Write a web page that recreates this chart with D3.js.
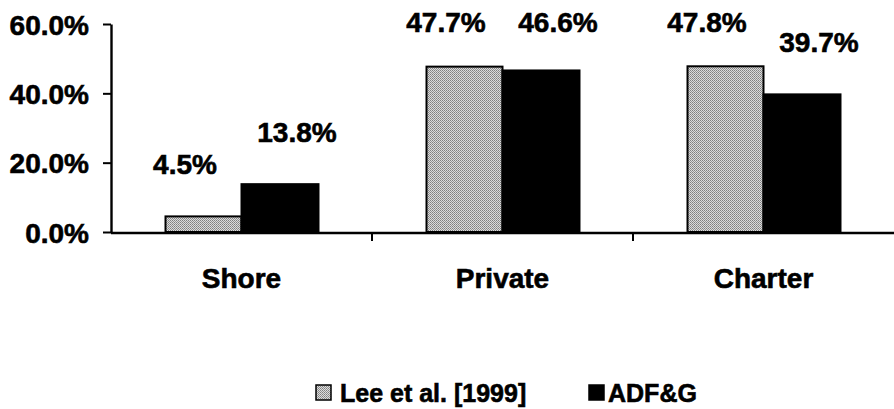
<!DOCTYPE html>
<html><head><meta charset="utf-8">
<script src="https://cdn.jsdelivr.net/npm/d3@7"></script>
<style>
html,body{margin:0;padding:0;background:#fff;}
text{font-family:"Liberation Sans",Arial,sans-serif;font-weight:bold;fill:#000;stroke:#000;stroke-width:0.6px;}
</style></head>
<body>
<svg id="chart" width="894" height="409"></svg>
<script>
const categories = ["Shore", "Private", "Charter"];
const seriesNames = ["Lee et al. [1999]", "ADF&G"];
const leeValues = [4.5, 47.7, 47.8];
const adfgValues = [13.8, 46.6, 39.7];
const yTicks = [0, 20, 40, 60];

const svg = d3.select("#chart");
const defs = svg.append("defs");
const pat = defs.append("pattern").attr("id","stip").attr("patternUnits","userSpaceOnUse")
  .attr("width",2).attr("height",2);
pat.append("rect").attr("width",2).attr("height",2).attr("fill","#dcdcdc");
pat.append("rect").attr("x",0).attr("y",0).attr("width",1).attr("height",1).attr("fill","#808080");
pat.append("rect").attr("x",1).attr("y",1).attr("width",1).attr("height",1).attr("fill","#959595");

const x0 = 111, x1 = 894, yTop = 24, yBot = 232;
const y = d3.scaleLinear().domain([0, 60]).range([yBot, yTop]);
const x = d3.scaleBand().domain(categories).range([x0, x1]).paddingInner(0.41).paddingOuter(0.205);
const xs = d3.scaleBand().domain([0,1]).range([0, x.bandwidth()]);
const fills = ["url(#stip)", "#000"];
const series = [leeValues, adfgValues];

// bars
series.forEach((vals, si) => {
  svg.append("g").selectAll("rect").data(categories).join("rect")
    .attr("x", c => x(c) + xs(si) + (si===0?1:0))
    .attr("y", (c,i) => y(vals[i]))
    .attr("width", xs.bandwidth() - (si===0?1:0))
    .attr("height", (c,i) => yBot - y(vals[i]))
    .attr("fill", fills[si])
    .attr("stroke", "#000").attr("stroke-width", 2);
});

// value labels
series.forEach((vals, si) => {
  svg.append("g").selectAll("text").data(categories).join("text")
    .attr("x", c => x(c) + xs(si) + xs.bandwidth()/2 + (si===0 ? -18 : 17))
    .attr("y", (c,i) => Math.max(y(vals[i]) - 42, 32))
    .attr("text-anchor", "middle")
    .attr("font-size", 28)
    .text((c,i) => vals[i].toFixed(1) + "%");
});

// y axis
const yAxis = d3.axisLeft(y).tickValues(yTicks).tickFormat(d => d.toFixed(1) + "%").tickSize(8).tickSizeOuter(0).tickPadding(14);
const gy = svg.append("g").attr("transform", `translate(${x0},0)`).call(yAxis);
gy.select(".domain").attr("stroke","#000").attr("stroke-width",2.4);
gy.selectAll(".tick line").attr("stroke","#000").attr("stroke-width",2);
gy.selectAll(".tick text").attr("font-size",28).attr("font-family",null).attr("fill","#000").attr("dy","0.36em");

// x axis line with category separator ticks
const step = x.step();
svg.append("line").attr("x1", x0).attr("x2", x1).attr("y1", yBot+1).attr("y2", yBot+1)
  .attr("stroke","#000").attr("stroke-width",2.4);
svg.append("g").selectAll("line").data(categories.slice(1)).join("line")
  .attr("x1", c => x(c) - step*x.paddingInner()/2).attr("x2", c => x(c) - step*x.paddingInner()/2)
  .attr("y1", yBot).attr("y2", yBot+9).attr("stroke","#000").attr("stroke-width",2);
svg.append("g").selectAll("text").data(categories).join("text")
  .attr("x", c => x(c) + x.bandwidth()/2)
  .attr("y", 288)
  .attr("text-anchor","middle")
  .attr("font-size", 28)
  .text(c => c);

// legend
const legendItems = [
  {name: seriesNames[0], fill: fills[0], bx: 316, tx: 340},
  {name: seriesNames[1], fill: fills[1], bx: 589, tx: 608}
];
const lg = svg.append("g");
legendItems.forEach(it => {
  lg.append("rect").attr("x", it.bx).attr("y", 385).attr("width", 15).attr("height", 15)
    .attr("fill", it.fill).attr("stroke","#000").attr("stroke-width",1.5);
  lg.append("text").attr("x", it.tx).attr("y", 402).attr("font-size", 25).text(it.name);
});
</script>
</body></html>
